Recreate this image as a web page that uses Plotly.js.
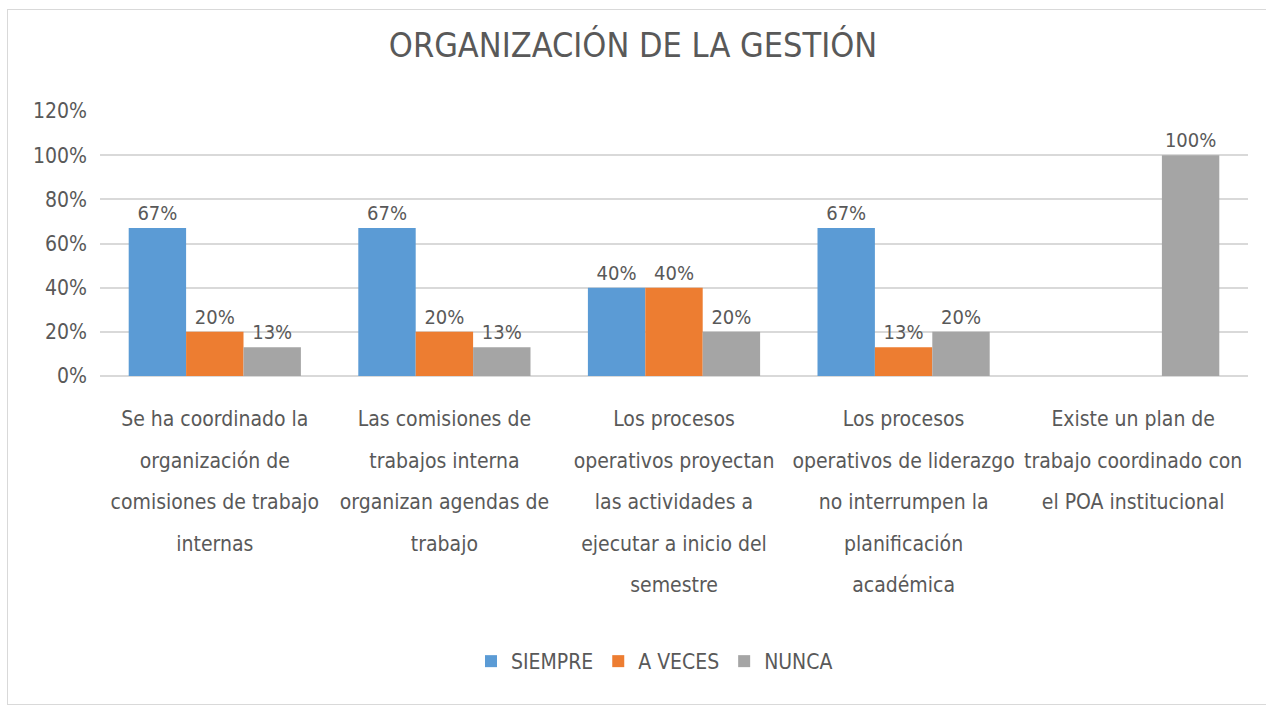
<!DOCTYPE html>
<html>
<head>
<meta charset="utf-8">
<script src="https://cdn.plot.ly/plotly-3.0.1.min.js"></script>
<style>
html,body{margin:0;padding:0;background:#fff;}
#wrap{position:relative;width:1266px;height:709px;}
#chart{width:1266px;height:709px;}
#frame{position:absolute;left:7px;top:9px;width:1270px;height:694px;border:1px solid #d9d9d9;pointer-events:none;}
</style>
</head>
<body>
<div id="wrap"><div id="chart"></div><div id="frame"></div></div>
<script>
const categories = [
  "Se ha coordinado la<br>organización de<br>comisiones de trabajo<br>internas",
  "Las comisiones de<br>trabajos interna<br>organizan agendas de<br>trabajo",
  "Los procesos<br>operativos proyectan<br>las actividades a<br>ejecutar a inicio del<br>semestre",
  "Los procesos<br>operativos de liderazgo<br>no interrumpen la<br>planificación<br>académica",
  "Existe un plan de<br>trabajo coordinado con<br>el POA institucional"
];
const siempre = [0.67, 0.67, 0.40, 0.67, null];
const aVeces  = [0.20, 0.20, 0.40, 0.13, null];
const nunca   = [0.13, 0.13, 0.20, 0.20, 1.00];
const seriesNames = ["SIEMPRE", "A VECES", "NUNCA"];
const seriesColors = ["#5B9BD5", "#ED7D31", "#A5A5A5"];

const FONT = "'Liberation Sans Narrow', 'DejaVu Sans Condensed', 'Arial Narrow', sans-serif";
const TXT = "#595959";

// Tick label text: wider line spacing than the glyph size (as in the original)
const tickText = categories.map(c =>
  c.split("<br>").map(l => '<span style="font-size:21px">' + l + '</span>').join("<br>"));

const traces = [siempre, aVeces, nunca].map((vals, i) => ({
  type: "bar",
  name: seriesNames[i],
  x: categories,
  y: vals,
  marker: {color: seriesColors[i]},
  texttemplate: "%{y:.0%}",
  textposition: "outside",
  textfont: {family: FONT, size: 20, color: TXT},
  cliponaxis: false,
  hoverinfo: "skip"
}));

const layout = {
  width: 1266, height: 709,
  paper_bgcolor: "#ffffff", plot_bgcolor: "#ffffff",
  margin: {l: 100, r: 18, t: 111, b: 333},
  title: {text: "ORGANIZACIÓN DE LA GESTIÓN", font: {family: FONT, size: 34, color: TXT},
          x: 0.5, xanchor: "center", yref: "container", y: 0.936, yanchor: "middle"},
  barmode: "group",
  bargap: 0.25,
  bargroupgap: 0,
  showlegend: true,
  legend: {orientation: "h", x: 0.483, xanchor: "center", y: -1.0, yanchor: "top",
           font: {family: FONT, size: 21, color: TXT}, itemwidth: 30, traceorder: "normal"},
  xaxis: {
    type: "category",
    tickvals: categories,
    ticktext: tickText,
    tickfont: {family: FONT, size: 32, color: TXT},
    tickangle: 0,
    showline: false, showgrid: false, ticks: "",
    ticklabelstandoff: 17,
    automargin: false
  },
  yaxis: {
    range: [0, 1.2], dtick: 0.2, tickformat: ".0%",
    tickfont: {family: FONT, size: 21, color: TXT},
    showgrid: true, gridcolor: "#d9d9d9", gridwidth: 2,
    zeroline: true, zerolinecolor: "#d9d9d9", zerolinewidth: 2,
    showline: false, ticks: "",
    ticklabelstandoff: 12,
    automargin: false
  }
};

Plotly.newPlot("chart", traces, layout, {displayModeBar: false, staticPlot: true});
</script>
</body>
</html>
